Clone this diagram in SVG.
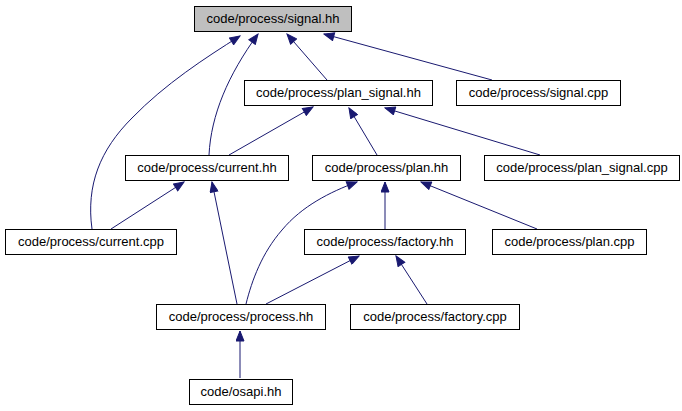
<svg xmlns="http://www.w3.org/2000/svg" width="682" height="411" viewBox="0 0 682 411">
<defs>
<marker id="ah" markerUnits="userSpaceOnUse" markerWidth="12" markerHeight="9" refX="11" refY="4.5" orient="auto">
<path d="M1,0.5 L11,4.5 L1,8.5 z" fill="#191970" stroke="#191970" stroke-width="1"/>
</marker>
</defs>
<style>
.n rect{fill:#ffffff;stroke:#000000;stroke-width:1}
.n text{font-family:"Liberation Sans",Arial,sans-serif;font-size:13px;text-anchor:middle;fill:#000000}
#edges path{fill:none;stroke:#191970;stroke-width:1;marker-end:url(#ah)}
</style>
<rect width="682" height="411" fill="#ffffff"/>
<g id="edges">
<path d="M92,229 C86,185 100,150 132,118 C165,84 205,58 240,36"/>
<path d="M209,155 C211,115 228,75 258,34"/>
<path d="M327,80 L287,34"/>
<path d="M492,80 L324,34"/>
<path d="M229,155 L313,107"/>
<path d="M377,155 L349,108"/>
<path d="M540,155 L385,108"/>
<path d="M111,229 L184,182"/>
<path d="M237,304 L212,182"/>
<path d="M246,304 C252,280 262,253 282,230 C302,206 330,192 357,182"/>
<path d="M385,229 L385,182"/>
<path d="M537,229 L421,182"/>
<path d="M266,304 L359,256"/>
<path d="M427,304 L396,256"/>
<path d="M240,378 L240,331"/>
</g>
<g id="signal_hh" class="n"><rect x="194.5" y="6.5" width="157" height="25" style="fill:#bfbfbf"/><text x="273" y="23">code/process/signal.hh</text></g>
<g id="plan_signal_hh" class="n"><rect x="244.5" y="80.5" width="188" height="25"/><text x="338.5" y="97">code/process/plan_signal.hh</text></g>
<g id="signal_cpp" class="n"><rect x="456.5" y="80.5" width="164" height="25"/><text x="538.5" y="97">code/process/signal.cpp</text></g>
<g id="current_hh" class="n"><rect x="125.5" y="155.5" width="163" height="25"/><text x="207" y="172">code/process/current.hh</text></g>
<g id="plan_hh" class="n"><rect x="312.5" y="155.5" width="148" height="25"/><text x="386.5" y="172">code/process/plan.hh</text></g>
<g id="plan_signal_cpp" class="n"><rect x="484.5" y="155.5" width="195" height="25"/><text x="582" y="172">code/process/plan_signal.cpp</text></g>
<g id="current_cpp" class="n"><rect x="5.5" y="229.5" width="171" height="25"/><text x="91" y="246">code/process/current.cpp</text></g>
<g id="factory_hh" class="n"><rect x="304.5" y="229.5" width="161" height="25"/><text x="385" y="246">code/process/factory.hh</text></g>
<g id="plan_cpp" class="n"><rect x="492.5" y="229.5" width="154" height="25"/><text x="569.5" y="246">code/process/plan.cpp</text></g>
<g id="process_hh" class="n"><rect x="156.5" y="304.5" width="169" height="25"/><text x="241" y="321">code/process/process.hh</text></g>
<g id="factory_cpp" class="n"><rect x="350.5" y="304.5" width="169" height="25"/><text x="435" y="321">code/process/factory.cpp</text></g>
<g id="osapi_hh" class="n"><rect x="189.5" y="379.5" width="103" height="25"/><text x="241" y="396">code/osapi.hh</text></g>
</svg>
